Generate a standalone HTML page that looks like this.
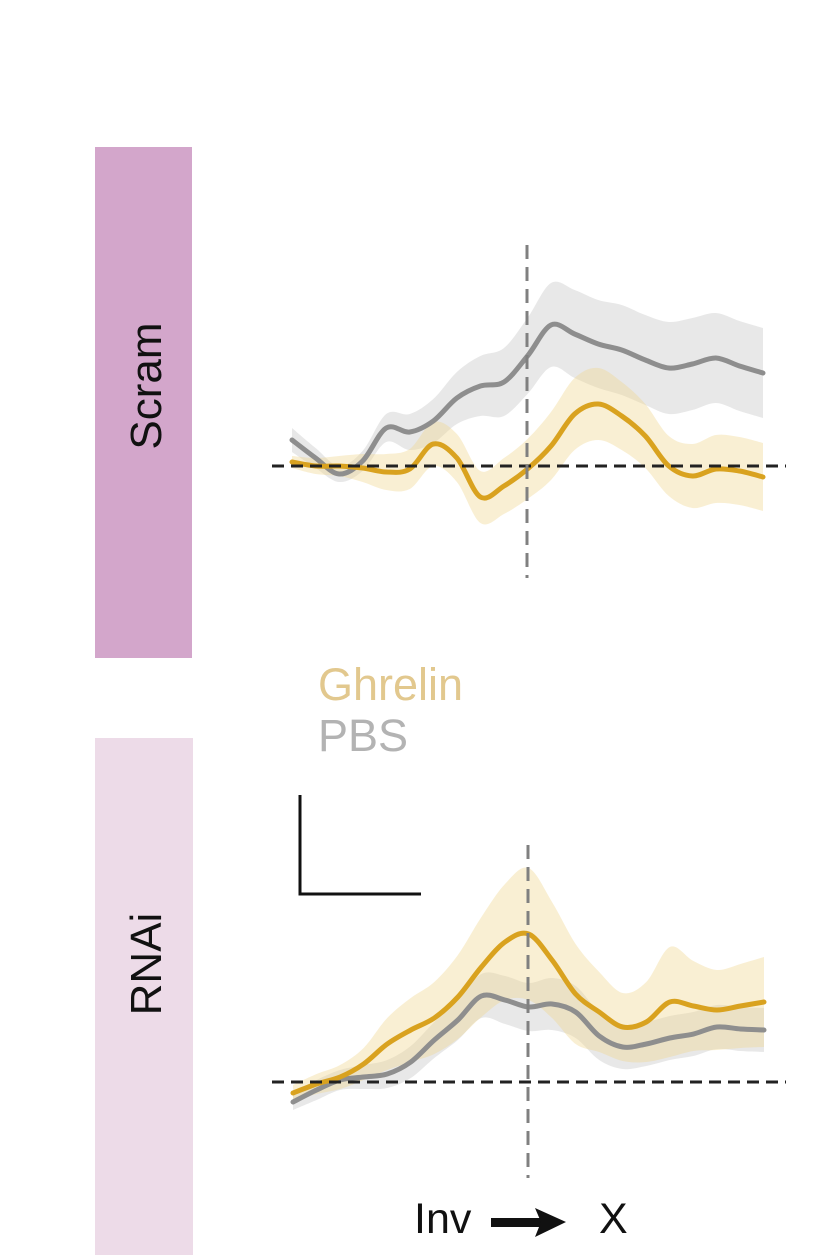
<!DOCTYPE html>
<html><head><meta charset="utf-8"><style>
html,body{margin:0;padding:0;background:#fff;}
svg{display:block;font-family:"Liberation Sans",Arial,sans-serif;}
</style></head><body>
<svg id="fig" width="839" height="1255" viewBox="0 0 839 1255">
  <rect x="95" y="147" width="97" height="511" fill="#d3a6cb"/>
  <text transform="translate(161,386) rotate(-90)" text-anchor="middle" font-size="44" fill="#111">Scram</text>
  <rect x="95" y="738" width="98" height="517" fill="#eddbe8"/>
  <text transform="translate(161,964) rotate(-90)" text-anchor="middle" font-size="44" fill="#111">RNAi</text>
  <text x="318" y="700" font-size="45" fill="#e2c88e">Ghrelin</text>
  <text x="318" y="751" font-size="45" fill="#b3b3b3">PBS</text>
  <path d="M300 795 L300 894 L421 894" fill="none" stroke="#111" stroke-width="3"/>
  <g id="top"></g>
  <g id="bot"></g>
  <text x="414" y="1233" font-size="43" fill="#111">Inv</text>
  <g>
    <rect x="491" y="1218" width="50" height="9" fill="#111"/>
    <polygon points="535,1208 566,1222 535,1237 541,1222" fill="#111"/>
  </g>
  <text x="599" y="1233" font-size="43" fill="#111">X</text>
</svg>
<script>
const times = [-10,-9,-8,-7,-6,-5,-4,-3,-2,-1,0,1,2,3,4,5,6,7,8,9,10];
const scramPBS = [26,8,-8,5,38,34,45,68,80,84,110,141,132,122,116,106,98,102,108,100,93];
const scramPBSerr = [12,10,8,10,14,18,22,26,30,34,38,42,44,44,45,45,46,46,45,45,45];
const scramGhrelin = [4,0,0,-2,-6,-3,22,8,-31,-20,-3,20,52,62,50,30,0,-10,-3,-5,-11];
const scramGhrelinErr = [6,8,10,14,18,20,22,24,26,28,30,34,36,36,34,32,30,32,34,34,34];
const rnaiPBS = [-20,-8,2,5,8,20,42,62,86,82,75,78,70,46,35,38,44,48,55,53,52];
const rnaiPBSerr = [8,10,10,12,14,16,18,20,22,24,24,26,26,24,22,22,22,22,22,22,22];
const rnaiGhrelin = [-11,-2,5,18,38,52,64,85,115,140,148,122,88,70,55,60,80,76,72,76,80];
const rnaiGhrelinErr = [8,10,12,16,26,32,36,42,50,58,66,58,50,40,34,40,55,45,40,42,45];

const NS='http://www.w3.org/2000/svg';
function smooth(pts){
  let d='M'+pts[0][0].toFixed(1)+' '+pts[0][1].toFixed(1);
  for(let i=0;i<pts.length-1;i++){
    const p0=pts[Math.max(0,i-1)],p1=pts[i],p2=pts[i+1],p3=pts[Math.min(pts.length-1,i+2)];
    const c1=[p1[0]+(p2[0]-p0[0])/6,p1[1]+(p2[1]-p0[1])/6];
    const c2=[p2[0]-(p3[0]-p1[0])/6,p2[1]-(p3[1]-p1[1])/6];
    d+=' C'+c1.map(v=>v.toFixed(1)).join(' ')+' '+c2.map(v=>v.toFixed(1)).join(' ')+' '+p2[0].toFixed(1)+' '+p2[1].toFixed(1);
  }
  return d;
}
function panel(gid, base, vx, vy1, vy2, series){
  const g=document.getElementById(gid);
  const xs=t=>292+(t+10)*23.55+(vx-527);
  const ys=v=>base-v;
  series.forEach(s=>{
    const up=times.map((t,i)=>[xs(t),ys(s.v[i]+s.e[i])]);
    const lo=times.map((t,i)=>[xs(t),ys(s.v[i]-s.e[i])]).reverse();
    const band=document.createElementNS(NS,'path');
    band.setAttribute('d',smooth(up)+' L'+lo[0][0].toFixed(1)+' '+lo[0][1].toFixed(1)+smooth(lo).replace(/^M[^C]*/,' ')+' Z');
    band.setAttribute('fill',s.band);
    
    
    g.appendChild(band);
  });
  series.forEach(s=>{
    const line=document.createElementNS(NS,'path');
    line.setAttribute('d',smooth(times.map((t,i)=>[xs(t),ys(s.v[i])])));
    line.setAttribute('fill','none');
    line.setAttribute('stroke',s.color);
    line.setAttribute('stroke-width','5');
    line.setAttribute('stroke-linecap','round');
    
    
    g.appendChild(line);
  });
  const h=document.createElementNS(NS,'line');
  h.setAttribute('x1',272);h.setAttribute('x2',786);h.setAttribute('y1',base);h.setAttribute('y2',base);
  h.setAttribute('stroke','#222');h.setAttribute('stroke-width','3');h.setAttribute('stroke-dasharray','12 7');
  
  
  g.appendChild(h);
  const v=document.createElementNS(NS,'line');
  v.setAttribute('x1',vx);v.setAttribute('x2',vx);v.setAttribute('y1',vy1);v.setAttribute('y2',vy2);
  v.setAttribute('stroke','#808080');v.setAttribute('stroke-width','3');v.setAttribute('stroke-dasharray','14 8');
  
  
  g.appendChild(v);
}
const GB='rgba(205,205,205,0.45)', YB='rgba(240,212,140,0.38)';
panel('top',466,527,245,578,[
  {name:'scram-pbs',v:scramPBS,e:scramPBSerr,color:'#8e8e8e',band:GB},
  {name:'scram-ghrelin',v:scramGhrelin,e:scramGhrelinErr,color:'#d9a21f',band:YB}
]);
panel('bot',1082,528,845,1178,[
  {name:'rnai-pbs',v:rnaiPBS,e:rnaiPBSerr,color:'#8e8e8e',band:GB},
  {name:'rnai-ghrelin',v:rnaiGhrelin,e:rnaiGhrelinErr,color:'#d9a21f',band:YB}
]);
</script>
</body></html>
